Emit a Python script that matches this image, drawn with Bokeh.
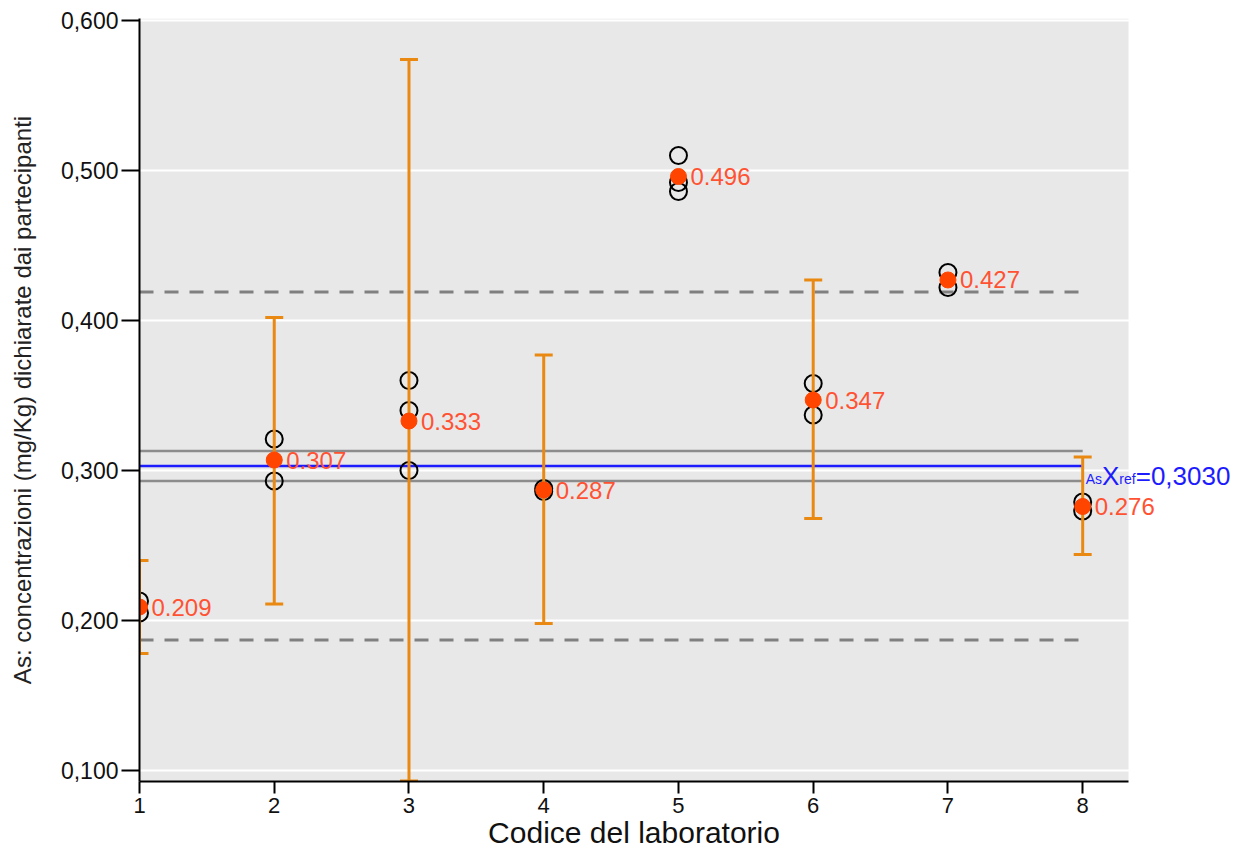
from bokeh.plotting import figure
from bokeh.models import (ColumnDataSource, FixedTicker, CustomJSTickFormatter,
                          Label, LabelSet, Range1d, Title)
from bokeh.core.properties import value
from bokeh.embed import file_html
from bokeh.resources import INLINE

# ---------------- data ----------------
labs = [1, 2, 3, 4, 5, 6, 7, 8]
lab_means = [0.209, 0.307, 0.333, 0.287, 0.496, 0.347, 0.427, 0.276]
mean_labels = ["0.209", "0.307", "0.333", "0.287", "0.496", "0.347", "0.427", "0.276"]

rep_lab = [1, 1, 2, 2, 3, 3, 3, 4, 4, 5, 5, 5, 6, 6, 7, 7, 8, 8]
rep_val = [0.213, 0.205, 0.321, 0.293, 0.360, 0.340, 0.300, 0.288, 0.286,
           0.510, 0.492, 0.486, 0.358, 0.337, 0.432, 0.422, 0.279, 0.273]

err_lab = [1, 2, 3, 4, 6, 8]
err_hi = [0.240, 0.402, 0.574, 0.377, 0.427, 0.309]
err_lo = [0.178, 0.211, 0.093, 0.198, 0.268, 0.244]

x_ref = 0.3030
x_ref_text = "=0,3030"
u_ref_lines = [0.313, 0.293]
limit_lines = [0.419, 0.187]

y_ticks = [0.1, 0.2, 0.3, 0.4, 0.5, 0.6]
x_ticks = [1, 2, 3, 4, 5, 6, 7, 8]
x_title = "Codice del laboratorio"
y_title = "As: concentrazioni (mg/Kg) dichiarate dai partecipanti"

# ---------------- layout ----------------
X0, XP = 1.0, 8.34          # visible plotting panel (grey area)
Y0, Y1 = 0.0927, 0.6013
LEFT = 139
PANEL_W = 989
FW, FH = 1236 - LEFT, 763    # frame extends to the right edge so labels are not clipped
pxx = PANEL_W / (XP - X0)
X1 = X0 + FW / pxx
pxy = FH / (Y1 - Y0)

FONT = "Liberation Sans"
ORANGE_BAR = "#e98912"
DOT = "#ff4500"
DOT_TXT = "#ff5233"
BLUE = "#1c1cff"

W = {'A': 667, 's': 500, 'r': 333, 'e': 556, 'f': 278, 'X': 667, '=': 584, ',': 278,
     'C': 722, 'o': 556, 'd': 556, 'i': 222, 'c': 500, ' ': 278, 'l': 222, 'a': 556,
     'b': 556, 't': 278}
for dch in "0123456789":
    W[dch] = 556


def tw(s, size):
    return sum(W.get(ch, 556) for ch in s) * size / 1000.0


p = figure(frame_width=FW, frame_height=FH, output_backend="svg", toolbar_location=None,
           x_range=Range1d(X0, X1), y_range=Range1d(Y0, Y1))
p.min_border_left = LEFT
p.min_border_right = 0
p.min_border_top = 18
p.min_border_bottom = 0
p.background_fill_color = "white"
p.border_fill_color = "white"
p.outline_line_color = None

# grey plotting panel
p.quad(left=[X0], right=[XP], bottom=[Y0], top=[Y1], fill_color="#e8e8e8",
       line_color=None, level="image")

# grid
p.xgrid.visible = False
p.ygrid.ticker = FixedTicker(ticks=y_ticks)
p.ygrid.grid_line_color = "white"
p.ygrid.grid_line_width = 2

# axes
p.yaxis.ticker = FixedTicker(ticks=y_ticks)
p.yaxis.formatter = CustomJSTickFormatter(code="return tick.toFixed(3).replace('.', ',');")
p.xaxis.ticker = FixedTicker(ticks=x_ticks)
p.xaxis.bounds = (X0, XP)
for ax in (p.xaxis, p.yaxis):
    ax.axis_line_color = "black"
    ax.axis_line_width = 2
    ax.major_tick_line_color = "black"
    ax.major_tick_line_width = 2
    ax.major_tick_in = 0
    ax.minor_tick_line_color = None
    ax.major_label_text_font = FONT
    ax.major_label_text_color = "#111111"
p.yaxis.major_tick_out = 18
p.yaxis.major_label_standoff = 3
p.yaxis.major_label_text_font_size = "23px"
p.yaxis.axis_label = y_title
p.yaxis.axis_label_text_font = FONT
p.yaxis.axis_label_text_font_style = "normal"
p.yaxis.axis_label_text_font_size = "24px"
p.yaxis.axis_label_text_color = "#222222"
p.yaxis.axis_label_standoff = 22
p.xaxis.major_tick_out = 12
p.xaxis.major_label_standoff = 4
p.xaxis.major_label_text_font_size = "22px"

# x-axis title, centred under the grey panel
XT_SIZE = 30
xt_center = LEFT + PANEL_W / 2
p.add_layout(Title(text=x_title, align="left", offset=xt_center - LEFT - tw(x_title, XT_SIZE) / 2,
                   text_font=FONT, text_font_style="normal", text_font_size=f"{XT_SIZE}px",
                   text_color="#111111", standoff=0, vertical_align="top"), "below")

# reference lines
xl0, xl1 = min(labs), max(labs)
p.segment(x0=[xl0] * 2, x1=[xl1] * 2, y0=limit_lines, y1=limit_lines,
          line_color="#808080", line_width=3, line_dash="14 11")
p.segment(x0=[xl0] * 2, x1=[xl1] * 2, y0=u_ref_lines, y1=u_ref_lines,
          line_color="#8c8c8c", line_width=2.5)
p.segment(x0=[xl0], x1=[xl1], y0=[x_ref], y1=[x_ref], line_color=BLUE, line_width=2.5)

# replicates
p.scatter(rep_lab, rep_val, marker="circle", size=17, fill_color=None,
          line_color="black", line_width=2)

# error bars
p.segment(x0=err_lab, x1=err_lab, y0=err_lo, y1=err_hi, line_color=ORANGE_BAR, line_width=3)
p.scatter(err_lab + err_lab, err_hi + err_lo, marker="dash", size=18,
          line_color=ORANGE_BAR, line_width=3)

# means
p.scatter(labs, lab_means, marker="circle", size=16, fill_color=DOT, line_color=DOT)
src = ColumnDataSource(dict(x=labs, y=lab_means, t=mean_labels))
p.add_layout(LabelSet(x="x", y="y", text="t", source=src, x_offset=12,
                      text_baseline="middle", text_align="left",
                      text_font=value(FONT), text_font_size="24px", text_color=DOT_TXT))

# ----- reference value label: As X_ref =0,3030 -----
big, small = 26, 14
main_y = x_ref - 10 / pxy
sub_y = x_ref - 13 / pxy
off = 3
parts = [("As", small, sub_y), ("X", big, main_y), ("ref", small, sub_y), (x_ref_text, big, main_y)]
for txt, sz, yy in parts:
    p.add_layout(Label(x=xl1, y=yy, x_offset=off, text=txt, text_font=FONT,
                       text_font_size=f"{sz}px", text_color=BLUE,
                       text_baseline="alphabetic", text_align="left"))
    off += tw(txt, sz)

open("out.html", "w").write(file_html(p, INLINE))
